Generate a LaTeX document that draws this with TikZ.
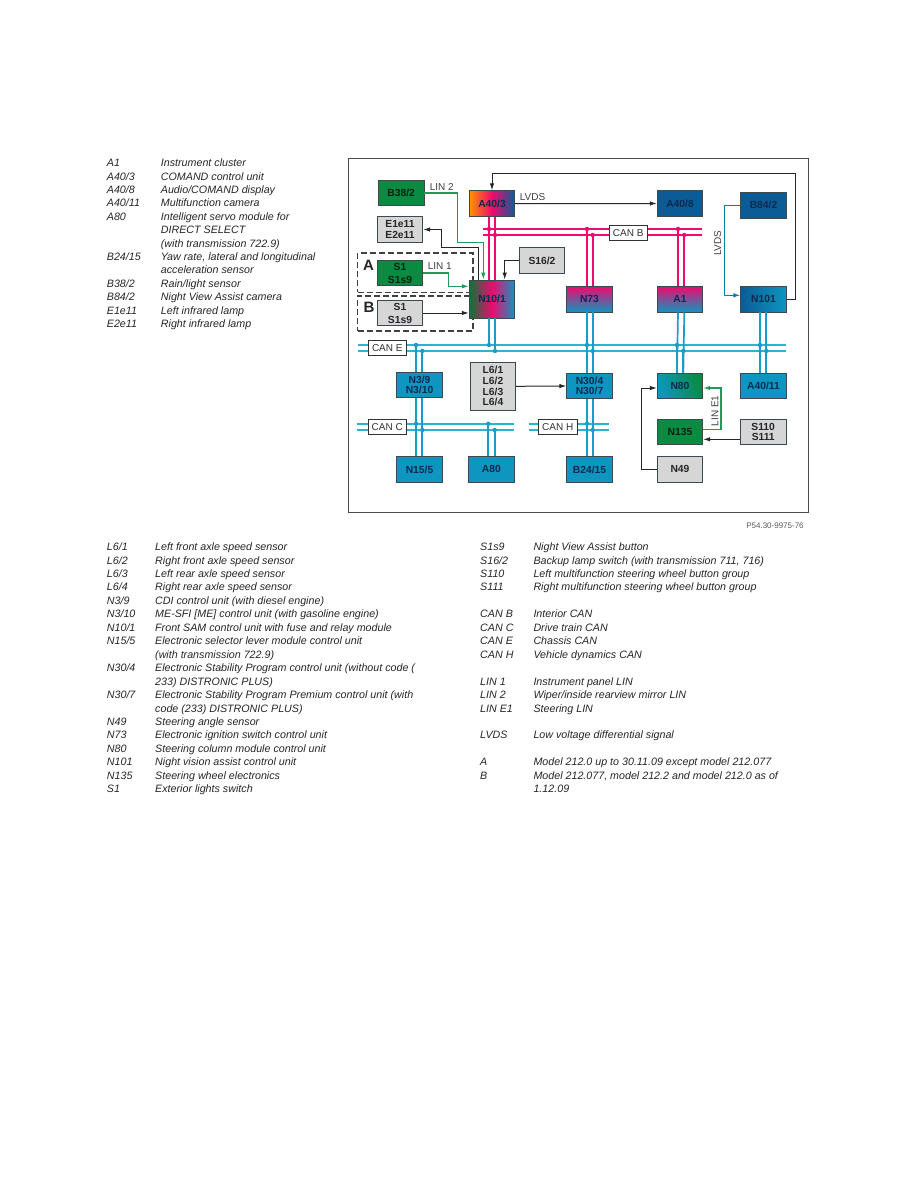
\documentclass[tikz,border=0pt]{standalone}
\usepackage{fontspec}
\setmainfont{Liberation Sans}
\usetikzlibrary{arrows.meta,calc}
\definecolor{gbox}{HTML}{0B8A42}
\definecolor{grayb}{HTML}{D6D6D6}
\definecolor{tealb}{HTML}{0E96C0}
\definecolor{darkb}{HTML}{0B5C96}
\definecolor{magen}{HTML}{EE0A6E}
\definecolor{cyanl}{HTML}{2CB4CE}
\definecolor{dropl}{HTML}{1A9CC8}
\definecolor{edgec}{HTML}{3C4A50}
\definecolor{navyt}{HTML}{0B2A50}
\definecolor{greenl}{HTML}{1F9A58}
\tikzset{
  x=1pt,y=-1pt,
  legtext/.style={anchor=north west,inner sep=0pt,align=left,text=black!85,font=\fontsize{10.7}{13.45}\selectfont\itshape},
  ubox/.style={draw=edgec,line width=0.8pt,minimum width=45.5pt,minimum height=25.7pt,inner sep=0pt,align=center,font=\fontsize{10.3}{10.7}\selectfont\bfseries,text=black!85},
  greenbox/.style={ubox,fill=gbox,text=black!75!gbox},
  graybox/.style={ubox,fill=grayb},
  tealbox/.style={ubox,fill=tealb,text=navyt},
  darkbox/.style={ubox,fill=darkb,text=navyt},
  buslabel/.style={draw=black!80,fill=white,line width=0.8pt,inner sep=0pt,minimum width=38.5pt,minimum height=15pt,font=\fontsize{10}{12}\selectfont,text=black!80},
  siglabel/.style={inner sep=0pt,font=\fontsize{10}{12}\selectfont,text=black!75},
  grouplabel/.style={inner sep=0pt,font=\fontsize{15}{16}\selectfont\bfseries,text=black!85},
  groupbox/.style={draw=black!75,line width=1.1pt,dash pattern=on 6pt off 3pt,minimum width=115.3pt,inner sep=0pt},
  redbus/.style={draw=magen,line width=1.7pt},
  bluebus/.style={draw=cyanl,line width=1.7pt},
  bluedrop/.style={draw=dropl,line width=1.7pt},
  redbusdot/.style={fill=magen},
  bluedropdot/.style={fill=dropl},
  sig/.style={draw=black!85,line width=1pt,-{Latex[length=7pt,width=4.5pt]}},
  greensig/.style={draw=greenl,line width=1.1pt,-{Latex[length=7pt,width=4.5pt]}},
  bluesig/.style={draw=darkb!80!cyan,line width=1.1pt,-{Latex[length=7pt,width=4.5pt]}},
}
\newcommand\legrow[4]{\node[legtext] (#1) at (#2,{550.4+13.45*#3-9}) {\rule{0pt}{9pt}#4};}
\newcommand\legtop[4]{\node[legtext] (#1) at (#2,{166.4+13.4*#3-9}) {\rule{0pt}{9pt}#4};}
% drop line from a box anchor to a bus line, with a dot on the bus
\newcommand\drop[4]{\draw[#1] ([xshift=#3]#2) -- ([xshift=#3]#2 |- #4);
  \fill[#1dot] ([xshift=#3]#2 |- #4) circle (2.2pt);}
\begin{document}
\begin{tikzpicture}
\useasboundingbox (0,0) rectangle (918,1188);
\fill[white] (0,0) rectangle (918,1188);
\node[draw=black!70,line width=1pt,minimum width=460pt,minimum height=354pt,inner sep=0pt] (frame) at (578,335) {};

% groups
\node[groupbox,minimum height=39.3pt] (groupa) at (415.3,272.6) {};
\node[groupbox,minimum height=35pt] (groupb) at (415.3,313.5) {};
\node[grouplabel] (lblA) at (368.5,265.3) {A};
\node[grouplabel] (lblB) at (369,307.3) {B};

% bus ends
\coordinate (bB1) at (483.3,229); \coordinate (bB1e) at (702.3,229);
\coordinate (bB2) at (483.3,235); \coordinate (bB2e) at (702.3,235);
\coordinate (bE1) at (357.7,345); \coordinate (bE1e) at (785.7,345);
\coordinate (bE2) at (357.7,351); \coordinate (bE2e) at (785.7,351);
\coordinate (bC1) at (356.7,423.7); \coordinate (bC1e) at (514,423.7);
\coordinate (bC2) at (356.7,430); \coordinate (bC2e) at (514,430);
\coordinate (bH1) at (529,423.7); \coordinate (bH1e) at (609.3,423.7);
\coordinate (bH2) at (529,430); \coordinate (bH2e) at (609.3,430);

% units
\node[greenbox] (b382) at (401.2,193) {B38/2};
\node[graybox] (e1e11) at (400,229.5) {E1e11\\E2e11};
\node[ubox,left color=orange!85!yellow,right color=darkb,middle color=magen,text=navyt,minimum height=26pt] (a403) at (492,203.7) {A40/3};
\node[graybox] (s162) at (542,260.5) {S16/2};
\node[ubox,left color=gbox!85!black,right color=tealb,middle color=magen,text=navyt,minimum height=38pt] (n101m) at (492,299) {N10/1};
\node[greenbox,font=\fontsize{10.3}{13}\selectfont\bfseries] (s1a) at (400,273) {S1\\S1s9};
\node[graybox,font=\fontsize{10.3}{13}\selectfont\bfseries] (s1b) at (400,313) {S1\\S1s9};
\node[ubox,top color=magen,bottom color=tealb,text=navyt] (n73) at (589.5,299.2) {N73};
\node[ubox,top color=magen,bottom color=tealb,text=navyt] (a1) at (680,299.2) {A1};
\node[darkbox] (a408) at (680,203.5) {A40/8};
\node[darkbox] (b842) at (763.5,205.2) {B84/2};
\node[ubox,left color=darkb,right color=tealb,text=navyt] (n101) at (763.5,299.2) {N101};
\node[tealbox] (n39) at (419.5,385) {N3/9\\N3/10};
\node[graybox,minimum height=48pt] (l6) at (493,386.3) {L6/1\\L6/2\\L6/3\\L6/4};
\node[tealbox] (n304) at (589.5,386) {N30/4\\N30/7};
\node[ubox,left color=tealb,right color=gbox,shading angle=110,text=navyt] (n80) at (680,386) {N80};
\node[tealbox] (a4011) at (763.5,386) {A40/11};
\node[greenbox] (n135) at (680,432) {N135};
\node[graybox] (s110) at (763.2,432) {S110\\S111};
\node[graybox] (n49) at (680,469.2) {N49};
\node[tealbox] (n155) at (419.5,469.4) {N15/5};
\node[tealbox] (a80) at (491.4,469.4) {A80};
\node[tealbox] (b2415) at (589.5,469.4) {B24/15};

% buses
\draw[redbus] (bB1) -- (bB1e); \draw[redbus] (bB2) -- (bB2e);
\draw[bluebus] (bE1) -- (bE1e); \draw[bluebus] (bE2) -- (bE2e);
\draw[bluebus] (bC1) -- (bC1e); \draw[bluebus] (bC2) -- (bC2e);
\draw[bluebus] (bH1) -- (bH1e); \draw[bluebus] (bH2) -- (bH2e);

% drops, CAN B
\draw[redbus] ([xshift=-3pt]a403.south) -- ([xshift=-3pt]n101m.north);
\draw[redbus] ([xshift=3pt]a403.south) -- ([xshift=3pt]n101m.north);
\fill[magen] ([xshift=-3pt]a403.south |- bB1) circle (2.2pt);
\fill[magen] ([xshift=3pt]a403.south |- bB2) circle (2.2pt);
\drop{redbus}{n73.north}{-2.5pt}{bB1}
\drop{redbus}{n73.north}{3.2pt}{bB2}
\drop{redbus}{a1.north}{-2pt}{bB1}
\drop{redbus}{a1.north}{4.3pt}{bB2}
% drops, CAN E
\drop{bluedrop}{n101m.south}{-3pt}{bE1}
\drop{bluedrop}{n101m.south}{3pt}{bE2}
\drop{bluedrop}{n39.north}{-3.5pt}{bE1}
\drop{bluedrop}{n39.north}{2.8pt}{bE2}
\drop{bluedrop}{n304.north}{-2.5pt}{bE1}
\drop{bluedrop}{n304.north}{3.2pt}{bE2}
\drop{bluedrop}{n80.north}{-3pt}{bE1}
\drop{bluedrop}{n80.north}{3.3pt}{bE2}
\drop{bluedrop}{a4011.north}{-3.5pt}{bE1}
\drop{bluedrop}{a4011.north}{2.8pt}{bE2}
\draw[bluedrop] ([xshift=-2.5pt]n73.south) -- ([xshift=-2.5pt]n304.north);
\draw[bluedrop] ([xshift=3.2pt]n73.south) -- ([xshift=3.2pt]n304.north);
\draw[bluedrop] ([xshift=-2pt]a1.south) -- ([xshift=-3pt]n80.north);
\draw[bluedrop] ([xshift=4.3pt]a1.south) -- ([xshift=3.3pt]n80.north);
\draw[bluedrop] ([xshift=-3.5pt]n101.south) -- ([xshift=-3.5pt]a4011.north);
\draw[bluedrop] ([xshift=2.8pt]n101.south) -- ([xshift=2.8pt]a4011.north);
% drops, CAN C and H
\draw[bluedrop] ([xshift=-3.5pt]n39.south) -- ([xshift=-3.5pt]n155.north);
\draw[bluedrop] ([xshift=2.8pt]n39.south) -- ([xshift=2.8pt]n155.north);
\fill[dropl] ([xshift=-3.5pt]n39.south |- bC1) circle (2.2pt);
\fill[dropl] ([xshift=2.8pt]n39.south |- bC2) circle (2.2pt);
\drop{bluedrop}{a80.north}{-3.1pt}{bC1}
\drop{bluedrop}{a80.north}{3.3pt}{bC2}
\draw[bluedrop] ([xshift=-2.5pt]n304.south) -- ([xshift=-2.5pt]b2415.north);
\draw[bluedrop] ([xshift=3.2pt]n304.south) -- ([xshift=3.2pt]b2415.north);
\fill[dropl] ([xshift=-2.5pt]n304.south |- bH1) circle (2.2pt);
\fill[dropl] ([xshift=3.2pt]n304.south |- bH2) circle (2.2pt);

% bus labels
\node[buslabel] (canb) at (628.2,232.6) {CAN B};
\node[buslabel] (cane) at (387.3,348.3) {CAN E};
\node[buslabel] (canc) at (387.3,426.8) {CAN C};
\node[buslabel] (canh) at (557.7,426.8) {CAN H};

% signal connectors
\coordinate (g1) at (457.3,242.3);
\draw[greensig] (b382.east) -| (g1) -| ([xshift=-8.7pt]n101m.north);
\coordinate (k1) at (441.7,247.7);
\draw[sig] ([xshift=-14pt]n101m.north) |- (k1) |- (e1e11.east);
\draw[sig] (s162.west) -| ([xshift=12.7pt]n101m.north);
\coordinate (c1) at (448.3,286.3);
\draw[greensig] (s1a.east) -| (c1) -- (c1 -| n101m.west);
\draw[sig] (s1b.east) -- (s1b.east -| n101m.west);
\draw[sig] (a403.east) -- (a408.west);
\coordinate (t1) at (795,173.7);
\draw[sig] (n101.east) -| (t1) -| (a403.north);
\coordinate (v1) at (724.3,295.3);
\draw[bluesig] (b842.west) -| (v1) -- (v1 -| n101.west);
\draw[sig] (l6.east) -- (n304.west);
\coordinate (q1) at (641.3,388);
\draw[sig] (n49.west) -| (q1) -- (q1 -| n80.west);
\coordinate (r1) at (740,439.3);
\draw[sig] (r1 -| s110.west) -- (r1 -| n135.east);
\coordinate (u1) at (721,429.3);
\coordinate (u2) at (721,388);
\draw[greensig] (u1 -| n135.east) -- (u1) -- (u2) -- (u2 -| n80.east);

% signal labels
\node[siglabel] (lin2) at (441.7,187) {LIN 2};
\node[siglabel] (lvds1) at (532.5,196.7) {LVDS};
\node[siglabel] (lin1) at (439.7,266) {LIN 1};
\node[siglabel,rotate=90] (lvds2) at (717.7,243.3) {LVDS};
\node[siglabel,rotate=90] (line1) at (715,411) {LIN E1};
\node[inner sep=0pt,font=\fontsize{8}{9}\selectfont,text=black!65] (ref) at (775,526) {P54.30-9975-76};

% top-left legend
\legtop{ta1}{106.7}{0}{A1}            \legtop{da1}{160.7}{0}{Instrument cluster}
\legtop{ta403}{106.7}{1}{A40/3}       \legtop{da403}{160.7}{1}{COMAND control unit}
\legtop{ta408}{106.7}{2}{A40/8}       \legtop{da408}{160.7}{2}{Audio/COMAND display}
\legtop{ta4011}{106.7}{3}{A40/11}     \legtop{da4011}{160.7}{3}{Multifunction camera}
\legtop{ta80}{106.7}{4}{A80}          \legtop{da80}{160.7}{4}{Intelligent servo module for\\DIRECT SELECT\\(with transmission 722.9)}
\legtop{tb2415}{106.7}{7}{B24/15}     \legtop{db2415}{160.7}{7}{Yaw rate, lateral and longitudinal\\acceleration sensor}
\legtop{tb382}{106.7}{9}{B38/2}       \legtop{db382}{160.7}{9}{Rain/light sensor}
\legtop{tb842}{106.7}{10}{B84/2}      \legtop{db842}{160.7}{10}{Night View Assist camera}
\legtop{te1}{106.7}{11}{E1e11}        \legtop{de1}{160.7}{11}{Left infrared lamp}
\legtop{te2}{106.7}{12}{E2e11}        \legtop{de2}{160.7}{12}{Right infrared lamp}

% bottom-left legend
\legrow{tl1}{106.7}{0}{L6/1}          \legrow{dl1}{155}{0}{Left front axle speed sensor}
\legrow{tl2}{106.7}{1}{L6/2}          \legrow{dl2}{155}{1}{Right front axle speed sensor}
\legrow{tl3}{106.7}{2}{L6/3}          \legrow{dl3}{155}{2}{Left rear axle speed sensor}
\legrow{tl4}{106.7}{3}{L6/4}          \legrow{dl4}{155}{3}{Right rear axle speed sensor}
\legrow{tn39}{106.7}{4}{N3/9}         \legrow{dn39}{155}{4}{CDI control unit (with diesel engine)}
\legrow{tn310}{106.7}{5}{N3/10}       \legrow{dn310}{155}{5}{ME-SFI [ME] control unit (with gasoline engine)}
\legrow{tn101m}{106.7}{6}{N10/1}      \legrow{dn101m}{155}{6}{Front SAM control unit with fuse and relay module}
\legrow{tn155}{106.7}{7}{N15/5}       \legrow{dn155}{155}{7}{Electronic selector lever module control unit\\(with transmission 722.9)}
\legrow{tn304}{106.7}{9}{N30/4}       \legrow{dn304}{155}{9}{Electronic Stability Program control unit (without code (\\233) DISTRONIC PLUS)}
\legrow{tn307}{106.7}{11}{N30/7}      \legrow{dn307}{155}{11}{Electronic Stability Program Premium control unit (with\\code (233) DISTRONIC PLUS)}
\legrow{tn49}{106.7}{13}{N49}         \legrow{dn49}{155}{13}{Steering angle sensor}
\legrow{tn73}{106.7}{14}{N73}         \legrow{dn73}{155}{14}{Electronic ignition switch control unit}
\legrow{tn80}{106.7}{15}{N80}         \legrow{dn80}{155}{15}{Steering column module control unit}
\legrow{tn101}{106.7}{16}{N101}       \legrow{dn101}{155}{16}{Night vision assist control unit}
\legrow{tn135}{106.7}{17}{N135}       \legrow{dn135}{155}{17}{Steering wheel electronics}
\legrow{ts1}{106.7}{18}{S1}           \legrow{ds1}{155}{18}{Exterior lights switch}

% bottom-right legend
\legrow{ts1s9}{480}{0}{S1s9}          \legrow{ds1s9}{533.3}{0}{Night View Assist button}
\legrow{ts162}{480}{1}{S16/2}         \legrow{ds162}{533.3}{1}{Backup lamp switch (with transmission 711, 716)}
\legrow{ts110}{480}{2}{S110}          \legrow{ds110}{533.3}{2}{Left multifunction steering wheel button group}
\legrow{ts111}{480}{3}{S111}          \legrow{ds111}{533.3}{3}{Right multifunction steering wheel button group}
\legrow{tcb}{480}{5}{CAN B}           \legrow{dcb}{533.3}{5}{Interior CAN}
\legrow{tcc}{480}{6}{CAN C}           \legrow{dcc}{533.3}{6}{Drive train CAN}
\legrow{tce}{480}{7}{CAN E}           \legrow{dce}{533.3}{7}{Chassis CAN}
\legrow{tch}{480}{8}{CAN H}           \legrow{dch}{533.3}{8}{Vehicle dynamics CAN}
\legrow{tl1b}{480}{10}{LIN 1}         \legrow{dl1b}{533.3}{10}{Instrument panel LIN}
\legrow{tl2b}{480}{11}{LIN 2}         \legrow{dl2b}{533.3}{11}{Wiper/inside rearview mirror LIN}
\legrow{tle1}{480}{12}{LIN E1}        \legrow{dle1}{533.3}{12}{Steering LIN}
\legrow{tlv}{480}{14}{LVDS}           \legrow{dlv}{533.3}{14}{Low voltage differential signal}
\legrow{tA}{480}{16}{A}               \legrow{dA}{533.3}{16}{Model 212.0 up to 30.11.09 except model 212.077}
\legrow{tB}{480}{17}{B}               \legrow{dB}{533.3}{17}{Model 212.077, model 212.2 and model 212.0 as of\\1.12.09}
\end{tikzpicture}
\end{document}
